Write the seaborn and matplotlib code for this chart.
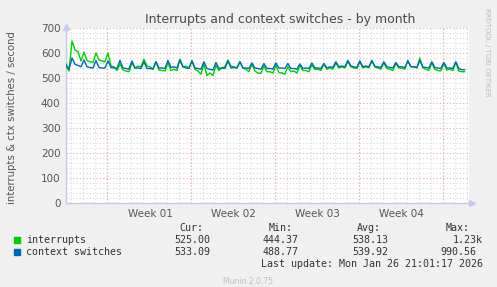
import numpy as np
import pandas as pd
import seaborn as sns
import matplotlib.pyplot as plt

# Data: 4 samples per day
interrupts = [
    548, 528, 648, 612,  605, 568, 603, 570,  565, 562, 600, 572,  568, 565, 600, 548,
    545, 530, 556, 532,  528, 525, 560, 540,  548, 545, 575, 548,  545, 535, 565, 532,
    530, 528, 560, 530,  535, 530, 575, 545,  548, 540, 570, 535,  528, 515, 555, 510,
    520, 510, 550, 530,  540, 545, 572, 548,  545, 540, 565, 540,  535, 525, 555, 528,
    520, 518, 548, 525,  525, 520, 550, 522,  520, 515, 545, 525,  528, 520, 550, 530,
    530, 525, 552, 535,  535, 530, 555, 535,  540, 535, 560, 540,  545, 540, 565, 545,
    540, 538, 565, 540,  545, 540, 568, 545,  540, 535, 560, 538,  535, 530, 558, 540,
    540, 535, 570, 545,  545, 540, 580, 540,  535, 530, 560, 535,  530, 528, 558, 532,
    535, 530, 562, 528,  525, 525,
]
ctx_switches = [
    555, 535, 580, 555,  550, 545, 572, 545,  542, 540, 570, 542,  540, 540, 568, 542,
    540, 538, 570, 540,  538, 536, 568, 540,  540, 538, 565, 538,  538, 536, 565, 540,
    540, 538, 570, 542,  545, 540, 572, 545,  540, 538, 568, 540,  538, 535, 565, 538,
    535, 532, 562, 538,  540, 538, 568, 540,  542, 540, 565, 540,  540, 538, 560, 540,
    538, 535, 558, 538,  538, 536, 560, 540,  540, 538, 558, 538,  538, 535, 556, 538,
    540, 538, 560, 540,  540, 538, 558, 540,  545, 542, 565, 545,  548, 545, 570, 548,
    545, 542, 568, 545,  548, 545, 570, 546,  545, 542, 565, 545,  542, 540, 562, 545,
    545, 542, 568, 545,  545, 542, 570, 545,  542, 540, 565, 542,  540, 538, 562, 540,
    540, 538, 565, 538,  533, 533,
]
days = np.arange(len(interrupts)) * 0.25

week_labels = ['Week 01', 'Week 02', 'Week 03', 'Week 04']
week_label_pos = [7, 14, 21, 28]
week_lines = [3.42, 10.42, 17.42, 24.42, 31.42]

legend_names = ['interrupts', 'context switches']
legend_colors = ['#00CC00', '#0066B3']
cur_vals = ['525.00', '533.09']
min_vals = ['444.37', '488.77']
avg_vals = ['538.13', '539.92']
max_vals = ['1.23k', '990.56']

df = pd.DataFrame({
    'day': np.concatenate([days, days]),
    'value': interrupts + ctx_switches,
    'series': ['interrupts'] * len(days) + ['context switches'] * len(days),
})

sns.set_style('white')
plt.rcParams['font.family'] = ['DejaVu Sans']

fig = plt.figure(figsize=(4.97, 2.87), dpi=100, facecolor='#F0F0F0')
ax = fig.add_axes([66/497, 84/287, 403/497, 175/287])
ax.set_facecolor('white')

# grid
ax.set_xlim(0, 33.6)
ax.set_ylim(0, 700)
ax.set_yticks(np.arange(0, 701, 100))
ax.set_yticks(np.arange(0, 701, 20), minor=True)
ax.set_xticks(week_label_pos)
ax.set_xticklabels(week_labels)
ax.set_xticks(np.arange(0.42, 33.6, 1.0), minor=True)
ax.grid(False)
ax.grid(True, which='minor', color='#D8D8D8', linestyle=(0, (1, 2)), linewidth=0.8)
for y in range(0, 701, 100):
    ax.axhline(y, color='#E8A8A8', linestyle=(0, (1, 2)), linewidth=0.8, zorder=1)
for x in week_lines:
    ax.axvline(x, color='#E8A8A8', linestyle=(0, (1, 2)), linewidth=0.8, zorder=1)

sns.lineplot(data=df, x='day', y='value', hue='series', palette=legend_colors,
             linewidth=1.0, legend=False, ax=ax, zorder=3)

ax.set_xlabel('')
ax.set_ylabel('interrupts & ctx switches / second', fontsize=7.3, color='#555555')
ax.yaxis.set_label_coords(-49/403, 0.49)
ax.tick_params(axis='both', which='major', labelsize=7.5, colors='#555555', length=0, pad=4)
ax.tick_params(axis='both', which='minor', length=0)
for s in ['top', 'right']:
    ax.spines[s].set_visible(False)
for s in ['left', 'bottom']:
    ax.spines[s].set_color('#C8C8F0')
    ax.spines[s].set_linewidth(1.0)
ax.plot([1.008], [0], marker='>', color='#C8C8F0', markersize=5, transform=ax.transAxes, clip_on=False)
ax.plot([0], [1.008], marker='^', color='#C8C8F0', markersize=5, transform=ax.transAxes, clip_on=False)

# title and side text
fig.text(280/497, 1 - 19/287, 'Interrupts and context switches - by month',
         ha='center', va='center', fontsize=9, color='#4A4A4A')
fig.text(487/497, 1 - 52/287, 'RRDTOOL / TOBI OETIKER', rotation=270,
         ha='center', va='center', fontsize=5, color='#BBBBBB')

# legend table
mono = dict(family='DejaVu Sans Mono', fontsize=7.2, color='#333333')
def ty(p):
    return 1 - p / 287

for txt, x in zip(['Cur:', 'Min:', 'Avg:', 'Max:'], [203, 293, 381, 470]):
    fig.text(x/497, ty(228), txt, ha='right', va='center', **mono)
for i, name in enumerate(legend_names):
    yy = 240 + 12 * i
    fig.patches.append(plt.Rectangle((14/497, ty(yy + 3)), 6/497, 6/287,
                                     transform=fig.transFigure, color=legend_colors[i]))
    fig.text(26/497, ty(yy), name, ha='left', va='center', **mono)
    fig.text(210/497, ty(yy), cur_vals[i], ha='right', va='center', **mono)
    fig.text(299/497, ty(yy), min_vals[i], ha='right', va='center', **mono)
    fig.text(388/497, ty(yy), avg_vals[i], ha='right', va='center', **mono)
    fig.text(483/497 if i == 0 else 476/497, ty(yy), max_vals[i], ha='right', va='center', **mono)
fig.text(483/497, ty(264), 'Last update: Mon Jan 26 21:01:17 2026', ha='right', va='center', **mono)
fig.text(248/497, ty(282), 'Munin 2.0.75', ha='center', va='center', fontsize=5.5, color='#C0C0C0')

fig.savefig('out.png', dpi=100, facecolor=fig.get_facecolor())
